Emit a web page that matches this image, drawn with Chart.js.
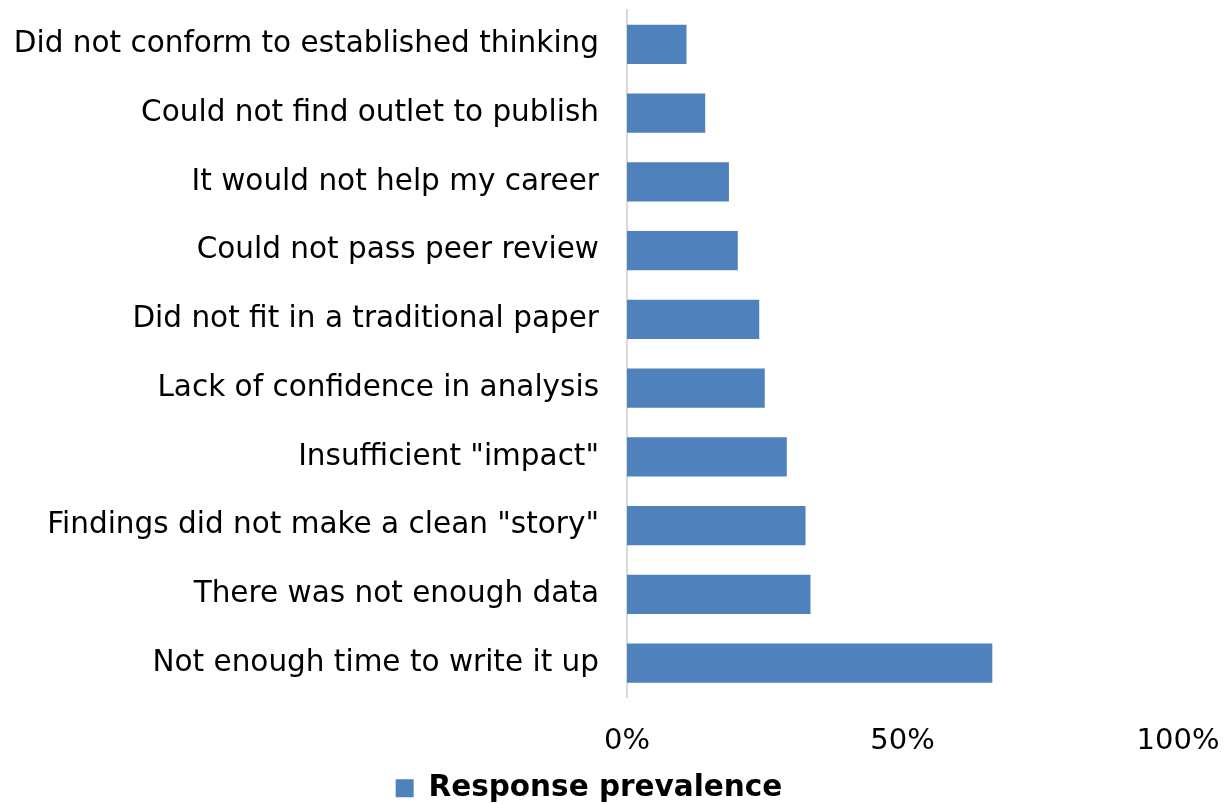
<!DOCTYPE html>
<html>
<head>
<meta charset="utf-8">
<script src="https://cdn.jsdelivr.net/npm/chart.js@4/dist/chart.umd.min.js"></script>
<style>
  html, body { margin: 0; padding: 0; background: #fff; }
  #wrap { width: 1230px; height: 804px; }
</style>
</head>
<body>
<div id="wrap"><canvas id="reasonsChart" width="1230" height="804"></canvas></div>
<script>
// reasons for leaving results unpublished, share of respondents (%)
const reasons = [
    'Did not conform to established thinking',
    'Could not find outlet to publish',
    'It would not help my career',
    'Could not pass peer review',
    'Did not fit in a traditional paper',
    'Lack of confidence in analysis',
    'Insufficient "impact"',
    'Findings did not make a clean "story"',
    'There was not enough data',
    'Not enough time to write it up'
];
const prevalence = [10.8, 14.2, 18.5, 20.1, 24.0, 25.0, 29.0, 32.4, 33.3, 66.3];
const xTicks = [0, 50, 100];

const labelFont = { family: 'DejaVu Sans', size: 29.5 };

const ctx = document.getElementById('reasonsChart').getContext('2d');

new Chart(ctx, {
    type: 'bar',
    data: {
        labels: reasons,
        datasets: [{
            label: 'Response prevalence',
            data: prevalence,
            backgroundColor: '#4f81bd',
            borderWidth: 0,
            barPercentage: 0.57,
            categoryPercentage: 1
        }]
    },
    options: {
        indexAxis: 'y',
        responsive: false,
        animation: false,
        // legend sits tight against the bottom edge
        layout: { padding: { top: 10, right: 52, left: 0, bottom: -9 } },
        plugins: {
            tooltip: { enabled: false },
            legend: {
                position: 'bottom',
                labels: {
                    color: '#000',
                    font: { family: 'DejaVu Sans', size: 29.5, weight: 'bold' },
                    boxWidth: 18,
                    boxHeight: 18,
                    padding: 2
                }
            }
        },
        scales: {
            x: {
                min: 0,
                max: 100,
                afterBuildTicks: axis => {
                    axis.ticks = xTicks.map(v => ({ value: v }));
                },
                afterFit: axis => {
                    axis.height = 74;
                    axis.paddingLeft = 0;
                    axis.paddingRight = 0;
                },
                grid: { display: false, drawTicks: false },
                border: { display: false },
                ticks: {
                    color: '#000',
                    font: { family: 'DejaVu Sans', size: 29 },
                    padding: 27,
                    maxRotation: 0,
                    callback: v => v + '%'
                }
            },
            y: {
                afterFit: axis => {
                    axis.width = 627;
                    axis.paddingTop = 0;
                    axis.paddingBottom = 0;
                },
                grid: { display: false, drawTicks: false },
                border: { display: true, color: '#d9d9d9', width: 2 },
                ticks: {
                    color: '#000',
                    font: labelFont,
                    padding: 28
                }
            }
        }
    }
});
</script>
</body>
</html>
